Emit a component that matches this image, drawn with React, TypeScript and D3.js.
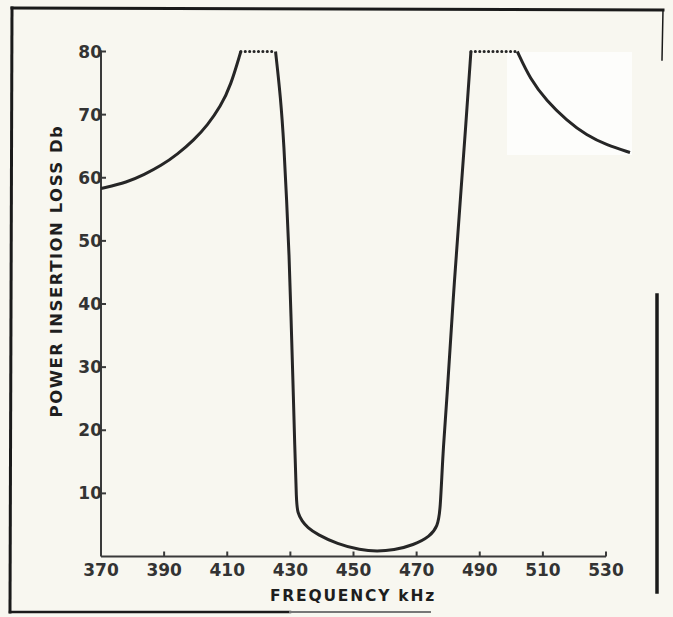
import * as d3 from 'd3'

// frequency (kHz) and power insertion loss (dB)
const freq = [
  370, 378.4, 383.7, 389, 394.2, 399.5, 403.7, 407.9, 411.1, 414.3,
  425.3, 426.9, 428.0, 428.8, 429.6, 430.2, 430.8, 431.4, 431.9, 432.3, 433.7, 435.4, 438.5, 444.8, 452.2, 457.5, 462.7, 469, 474.3, 476.6, 477.5, 478.3, 479.6, 481.5, 484.0, 485.6, 487.2,
  501.9, 506, 511.2, 517.5, 523.9, 530.2, 537.6,
]
const loss = [
  58.3, 59.3, 60.5, 61.9, 63.7, 66.0, 68.3, 71.3, 74.6, 80,
  80, 72.8, 64.9, 56.5, 48, 38, 28, 17.4, 8.6, 6.9, 5.6, 4.6, 3.5, 2.0, 1.0, 0.8, 1.0, 1.8, 3.2, 4.8, 7.0, 16.5, 24.8, 40.6, 57.5, 68.5, 80,
  80, 75.6, 72.2, 69.1, 66.7, 65.2, 64.0,
]
const xTicks = [370, 390, 410, 430, 450, 470, 490, 510, 530]
const yTicks = [10, 20, 30, 40, 50, 60, 70, 80]
const CEILING = 80

const W = 673
const H = 617
const FONT = '"DejaVu Sans", sans-serif'

export default function App() {
  const x = d3.scaleLinear().domain([370, 530]).range([101, 606])
  const y = d3.scaleLinear().domain([0, 80]).range([556.5, 51.5])

  const pts = freq.map((f, i) => ({ f, v: loss[i] }))
  // split into solid runs and dotted plateaus at the 80 dB ceiling
  const solid: { f: number; v: number }[][] = []
  const dotted: { f: number; v: number }[][] = []
  let run: { f: number; v: number }[] = [pts[0]]
  for (let i = 1; i < pts.length; i++) {
    const a = pts[i - 1]
    const b = pts[i]
    if (a.v === CEILING && b.v === CEILING) {
      if (run.length > 1) solid.push(run)
      dotted.push([a, b])
      run = [b]
    } else {
      run.push(b)
    }
  }
  if (run.length > 1) solid.push(run)

  const line = d3
    .line<{ f: number; v: number }>()
    .x(d => x(d.f))
    .y(d => y(d.v))
    .curve(d3.curveBasis)
  const straight = d3
    .line<{ f: number; v: number }>()
    .x(d => x(d.f))
    .y(d => y(d.v))

  const x0 = x(370)
  const y0 = y(0)

  return (
    <svg
      width={W}
      height={H}
      style={{ position: 'absolute', left: 0, top: 0, background: '#f8f7f0' }}
    >
      <rect x={507} y={52} width={125} height={103} fill="#fdfdfb" />

      {/* scan frame */}
      <g stroke="#1a1a1a" fill="none" strokeLinecap="square">
        <line x1={12} y1={8} x2={663} y2={10} strokeWidth={3} />
        <line x1={12} y1={8} x2={10} y2={612} strokeWidth={3} />
        <line x1={663} y1={10} x2={662} y2={60} strokeWidth={1.5} />
        <line x1={657} y1={295} x2={657} y2={592} strokeWidth={3.5} />
        <line x1={10} y1={612} x2={290} y2={612} strokeWidth={2.5} />
        <line x1={290} y1={612} x2={430} y2={612} strokeWidth={2} stroke="#777" />
      </g>

      {/* axes */}
      <g stroke="#3a3a3a" strokeWidth={2} fill="none">
        <line x1={x0} y1={y(80) - 1} x2={x0} y2={y0} />
        <line x1={x0} y1={y0} x2={x(530)} y2={y0} />
        {yTicks.map(t => (
          <line key={t} x1={x0 - 2} y1={y(t)} x2={x0 + 5} y2={y(t)} />
        ))}
        {xTicks.slice(1).map(t => (
          <line key={t} x1={x(t)} y1={y0} x2={x(t)} y2={y0 - 5} />
        ))}
      </g>

      <g fontFamily={FONT} fontWeight="bold" fontSize={17} fill="#333">
        {yTicks.map(t => (
          <text key={t} x={x0 + 1} y={y(t)} dy="0.36em" textAnchor="end">
            {t}
          </text>
        ))}
        {xTicks.map(t => (
          <text key={t} x={x(t)} y={576} textAnchor="middle">
            {t}
          </text>
        ))}
      </g>

      <text
        x={353}
        y={601}
        textAnchor="middle"
        fontFamily={FONT}
        fontWeight="bold"
        fontSize={15.5}
        letterSpacing={1.8}
        fill="#1e1e1e"
      >
        FREQUENCY kHz
      </text>
      <text
        transform="translate(62,271) rotate(-90)"
        textAnchor="middle"
        fontFamily={FONT}
        fontWeight="bold"
        fontSize={16.5}
        letterSpacing={1.5}
        fill="#1e1e1e"
      >
        POWER INSERTION LOSS Db
      </text>

      {/* response curve */}
      <g fill="none" stroke="#262626">
        {solid.map((s, i) => (
          <path key={i} d={line(s) || ''} strokeWidth={3} strokeLinejoin="round" />
        ))}
        {dotted.map((s, i) => (
          <path
            key={'d' + i}
            d={straight(s) || ''}
            strokeWidth={3}
            strokeDasharray="0.1 4.3"
            strokeLinecap="round"
          />
        ))}
      </g>
    </svg>
  )
}
